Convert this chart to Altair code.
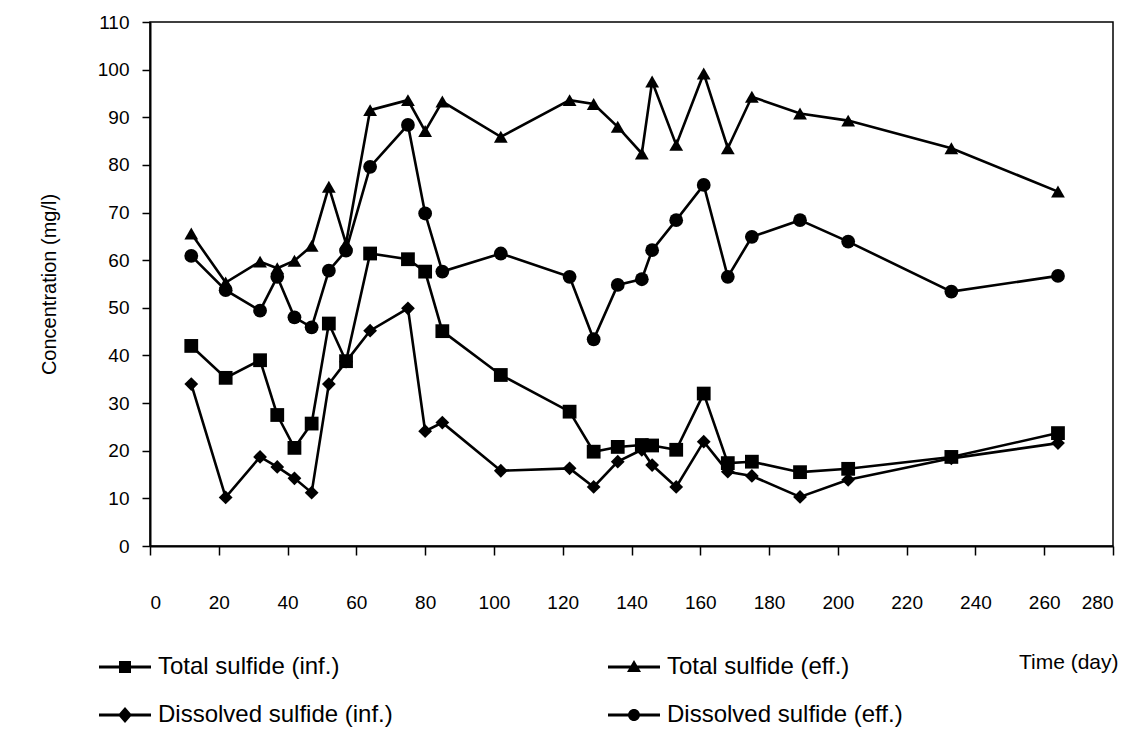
import altair as alt
import pandas as pd

# Sampling days (same for all four series)
days = [12, 22, 32, 37, 42, 47, 52, 57, 64, 75, 80, 85, 102, 122, 129, 136,
        143, 146, 153, 161, 168, 175, 189, 203, 233, 264]

# Concentrations in mg/l
total_inf = [42.0, 35.3, 39.0, 27.5, 20.6, 25.7, 46.7, 38.8, 61.4, 60.2, 57.6, 45.1, 35.9,
             28.2, 19.8, 20.8, 21.2, 21.1, 20.2, 32.0, 17.4, 17.7, 15.5, 16.2, 18.7, 23.7]
total_eff = [65.6, 55.3, 59.7, 58.3, 59.9, 63.0, 75.4, 63.5, 91.5, 93.6, 87.1, 93.3, 85.9,
             93.6, 92.8, 88.0, 82.4, 97.5, 84.2, 99.2, 83.5, 94.3, 90.8, 89.3, 83.5, 74.4]
dissolved_inf = [34.0, 10.2, 18.7, 16.6, 14.2, 11.2, 34.0, 38.7, 45.2, 49.9, 24.1, 25.9, 15.8,
                 16.3, 12.4, 17.7, 20.2, 17.0, 12.4, 21.9, 15.6, 14.7, 10.3, 13.9, 18.4, 21.6]
dissolved_eff = [60.9, 53.7, 49.4, 56.5, 48.0, 45.9, 57.8, 62.0, 79.6, 88.4, 69.8, 57.6, 61.4,
                 56.5, 43.4, 54.8, 56.0, 62.1, 68.4, 75.8, 56.5, 64.9, 68.4, 63.9, 53.4, 56.7]

series_names = ["Total sulfide (inf.)", "Total sulfide (eff.)",
                "Dissolved sulfide (inf.)", "Dissolved sulfide (eff.)"]
series_values = [total_inf, total_eff, dissolved_inf, dissolved_eff]
marker_shapes = ["square", "triangle-up", "diamond", "circle"]

x_ticks = list(range(0, 281, 20))
y_ticks = list(range(0, 111, 10))

rows = []
for name, vals in zip(series_names, series_values):
    for d, v in zip(days, vals):
        rows.append({"day": d, "conc": v, "series": name})
df = pd.DataFrame(rows)

# Legend glyphs: a filled bar for the line with the marker in the middle
# (all sub-paths wound the same way so they fill together)
bar = "M-2.6,-0.15H2.6V0.15H-2.6Z"
legend_glyphs = [
    bar + "M-0.6,-0.6H0.6V0.6H-0.6Z",
    bar + "M0,-0.7L0.7,0.5H-0.7Z",
    bar + "M0,-0.8L0.7,0L0,0.8L-0.7,0Z",
    bar + "M-0.6,0A0.6,0.6 0 1,1 0.6,0A0.6,0.6 0 1,1 -0.6,0Z",
]

FONT = "Liberation Sans"

x_enc = alt.X(
    "day:Q",
    scale=alt.Scale(domain=[0, 280], nice=False),
    axis=alt.Axis(
        values=x_ticks, title="Time (day)", titleAngle=0,
        titleX=968, titleY=116, titleAlign="right", titleBaseline="middle",
        titleFontSize=21, labelPadding=38, tickSize=9,
    ),
)
y_enc = alt.Y(
    "conc:Q",
    scale=alt.Scale(domain=[0, 110], nice=False),
    axis=alt.Axis(
        values=y_ticks, title="Concentration (mg/l)",
        tickSize=8, labelPadding=13, titlePadding=38,
    ),
)

lines = alt.Chart(df).mark_line(color="black", strokeWidth=2.6).encode(
    x=x_enc, y=y_enc, detail="series:N", order="day:Q"
)

points = alt.Chart(df).mark_point(
    filled=True, color="black", size=190, opacity=1
).encode(
    x="day:Q",
    y="conc:Q",
    shape=alt.Shape(
        "series:N",
        scale=alt.Scale(domain=series_names, range=marker_shapes),
        legend=None,
    ),
)

# Invisible layer that only carries the legend (line + marker glyphs)
legend_layer = alt.Chart(df).mark_point(
    filled=True, color="black", opacity=0
).encode(
    x="day:Q",
    y="conc:Q",
    shape=alt.Shape(
        "series:N",
        scale=alt.Scale(domain=series_names, range=legend_glyphs),
        legend=alt.Legend(
            title=None, orient="none", direction="horizontal",
            legendX=-37, legendY=633, padding=0,
            columns=2, columnPadding=215, rowPadding=24,
            symbolSize=400, labelOffset=21,
            symbolOpacity=1, symbolFillColor="black", symbolStrokeWidth=0,
            labelFont=FONT, labelFontSize=24, labelColor="black",
            labelLimit=500,
        ),
    ),
)

chart = (
    alt.layer(lines, points, legend_layer)
    .resolve_scale(shape="independent")
    .resolve_legend(shape="independent")
    .properties(
        width=963, height=524,
        autosize=alt.AutoSizeParams(type="none"),
        padding={"left": 150, "top": 22, "right": 22, "bottom": 187},
        background="white",
    )
    .configure_view(stroke="black", strokeWidth=1.5)
    .configure_axis(
        grid=False,
        domainColor="black", domainWidth=2,
        tickColor="black", tickWidth=1.5,
        labelFont=FONT, labelFontSize=19, labelColor="black",
        titleFont=FONT, titleFontSize=20, titleFontWeight="normal", titleColor="black",
    )
)

chart.save("out.html", embed_options={"renderer": "svg", "actions": False})
